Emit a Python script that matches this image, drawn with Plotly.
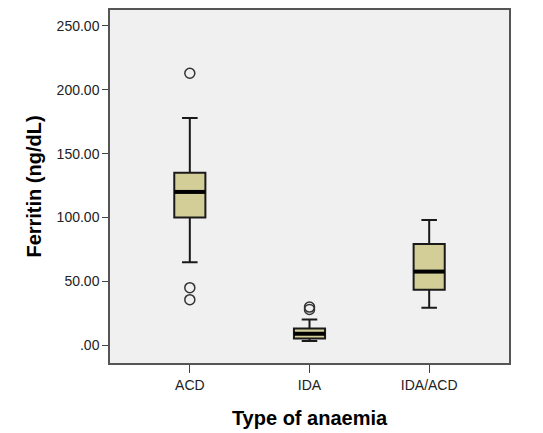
import plotly.graph_objects as go

categories = ["ACD", "IDA", "IDA/ACD"]
q1 = [100, 5.2, 43.4]
median = [120, 9, 57.6]
q3 = [135, 13, 79.2]
lower_whisker = [65, 3.3, 29.3]
upper_whisker = [178, 20, 98]
outliers = [[213, 45, 35.6], [29.8, 28], []]
tick_vals = [0, 50, 100, 150, 200, 250]
tick_labels = [".00", "50.00", "100.00", "150.00", "200.00", "250.00"]

box_w = 0.26
fill = "rgb(211,206,151)"
edge = "#1a1a1a"

fig = go.Figure()
for i, c in enumerate(categories):
    fig.add_trace(go.Box(
        x=[i], q1=[q1[i]], median=[median[i]], q3=[q3[i]],
        lowerfence=[lower_whisker[i]], upperfence=[upper_whisker[i]],
        width=box_w, whiskerwidth=0.5, fillcolor=fill,
        line=dict(color=edge, width=2), boxpoints=False,
        showlegend=False, hoverinfo="skip", name=c))
    fig.add_trace(go.Scatter(
        x=[i - box_w / 2, i + box_w / 2], y=[median[i], median[i]],
        mode="lines", line=dict(color="black", width=4),
        showlegend=False, hoverinfo="skip"))
    if outliers[i]:
        fig.add_trace(go.Scatter(
            x=[i] * len(outliers[i]), y=outliers[i], mode="markers",
            marker=dict(symbol="circle-open", size=10, color="#333",
                        line=dict(width=1.5, color="#333")),
            showlegend=False, hoverinfo="skip"))

fig.update_layout(
    width=543, height=433,
    margin=dict(l=102, r=42, t=0, b=78),
    paper_bgcolor="white", plot_bgcolor="#F0F0F0",
    font=dict(family="Liberation Sans, Arial, sans-serif", color="#333"),
    xaxis=dict(range=[-0.667, 2.667], tickvals=list(range(len(categories))),
               ticktext=categories, ticks="outside", ticklen=8, tickwidth=1.2,
               tickcolor="#444", showgrid=False, zeroline=False,
               showline=True, linecolor="#555", linewidth=1.5, mirror=True,
               tickfont=dict(size=14, color="#222"),
               title=dict(text="<b>Type of anaemia</b>",
                          font=dict(size=20, color="black"), standoff=19)),
    yaxis=dict(range=[-14, 262.5], tickvals=tick_vals, ticktext=tick_labels,
               ticks="outside", ticklen=6, tickwidth=1.2, tickcolor="#444",
               showgrid=False, zeroline=False,
               showline=True, linecolor="#555", linewidth=1.5, mirror=True,
               tickfont=dict(size=14, color="#222"),
               title=dict(text="<b>Ferritin (ng/dL)</b>",
                          font=dict(size=20, color="black"), standoff=10)),
)

fig.write_html("out.html")
